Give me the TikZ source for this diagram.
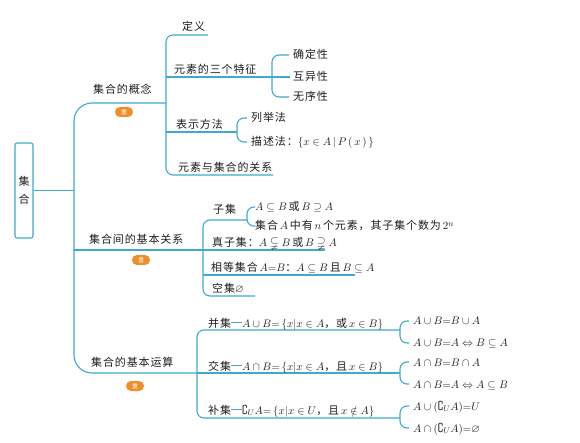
\documentclass[tikz,border=0pt]{standalone}
\usepackage{amsmath,amssymb}
\usepackage{fontspec}
\newfontfamily\cjk[LetterSpace=8]{Noto Sans CJK SC}
\newcommand\zf{\cjk\fontsize{11}{13}\selectfont}
\definecolor{lc}{RGB}{62,170,204}
\definecolor{bd}{RGB}{240,142,40}
\definecolor{tx}{RGB}{30,30,30}
\newcommand\dsh{\textcolor{lc}{\rule[0.33em]{1.0em}{0.9pt}}}
\begin{document}
\begin{tikzpicture}[x=1pt,y=-1pt,
  ln/.style={draw=lc, line width=1.1pt},
  br/.style={draw=lc, line width=1.1pt, rounded corners=7pt},
  tr/.style={draw=lc, line width=1.1pt, rounded corners=18pt},
  lbl/.style={anchor=base west, inner sep=1pt, text=tx, font=\zf},
  badge/.style={fill=bd, rounded corners=5pt, minimum width=18pt, minimum height=10pt, inner sep=0pt, text=white, font=\cjk\fontsize{6}{6}\selectfont}]
\path[use as bounding box] (0,0) rectangle (580,443);
\fill[white] (0,0) rectangle (580,443);

% root
\node[draw=lc, line width=1.1pt, rounded corners=2pt, minimum width=18pt, minimum height=95pt, inner sep=0pt, align=center, font=\zf, text=tx] (root) at (24,190.5) {集\\[5pt]合};
\coordinate (mroot) at (74,190.5);
\draw[ln] (root.east) -- (mroot);

% main trunk
\coordinate (m1) at (166,103);
\coordinate (m2) at (203,250);
\coordinate (m3) at (197,373);
\draw[tr] (m1) -- (74,103) -- (74,373) -- (m3);
\draw[ln] (74,250) -- (m2);

\node[lbl] (c1) at (92,94) {集合的概念};
\node[lbl] (c2) at (88,244) {集合间的基本关系};
\node[lbl] (c3) at (90,366) {集合的基本运算};
\node[badge] (b1) at (124,112) {重};
\node[badge] (b2) at (141,260) {重};
\node[badge] (b3) at (135,386) {重};

% --- branch 1
\draw[br] (208,35) -- (166,35) -- (166,175) -- (273,175);
\draw[ln] (166,77) -- (290,77);
\draw[ln] (166,132) -- (237,132);
\draw[br] (289,55) -- (272,55) -- (272,97) -- (289,97);
\draw[br] (247,118) -- (237,118) -- (237,142) -- (247,142);
\node[lbl] (d1) at (181,31) {定义};
\node[lbl] (d2) at (173,74) {元素的三个特征};
\node[lbl] (d3) at (175,129) {表示方法};
\node[lbl] (d4) at (177,172) {元素与集合的关系};
\node[lbl] (e1) at (292,59) {确定性};
\node[lbl] (e2) at (292,81) {互异性};
\node[lbl] (e3) at (292,101) {无序性};
\node[lbl] (f1) at (250,122) {列举法};
\node[lbl] (f2) at (250,146) {描述法：$\{x\in A\,|\,P\,(\,x\,)\,\}$};

% --- branch 2
\draw[br] (247,220) -- (203,220) -- (203,296) -- (255,296);
\draw[ln] (203,250) -- (325,250);
\draw[ln] (203,275) -- (355,275);
\draw[br] (255,207) -- (247,207) -- (247,226) -- (255,226);
\node[lbl] (g1) at (212,214) {子集};
\node[lbl] (h1) at (254,211) {$A\subseteq B$\,或\,$B\supseteq A$};
\node[lbl] (h2) at (254,230) {集合$\,A\,$中有$\,n\,$个元素，其子集个数为$\,2^n$};
\node[lbl] (g2) at (211,247) {真子集：$A\subsetneqq B$\,或\,$B\supsetneqq A$};
\node[lbl] (g3) at (210,272) {相等集合$\,A{=}B$：$A\subseteq B$\,且\,$B\subseteq A$};
\node[lbl] (g4) at (211,292) {空集$\varnothing$};

% --- branch 3
\draw[br] (400,330) -- (197,330) -- (197,418) -- (400,418);
\draw[ln] (197,373) -- (400,373);
\draw[br] (409,321) -- (400,321) -- (400,343) -- (409,343);
\draw[br] (409,362) -- (400,362) -- (400,384) -- (409,384);
\draw[br] (409,406) -- (400,406) -- (400,428) -- (409,428);
\node[lbl] (k1) at (207,327) {并集\dsh$A\cup B{=}\,\{x|x\in A$，或\,$x\in B\}$};
\node[lbl] (k2) at (207,370) {交集\dsh$A\cap B{=}\,\{x|x\in A$，且\,$x\in B\}$};
\node[lbl] (k3) at (207,414) {补集\dsh$\complement_U A{=}\,\{x|x\in U$，且\,$x\notin A\}$};
\node[lbl] (p1) at (412,324) {$A\cup B{=}B\cup A$};
\node[lbl] (p2) at (412,346) {$A\cup B{=}A\Leftrightarrow B\subseteq A$};
\node[lbl] (p3) at (412,366) {$A\cap B{=}B\cap A$};
\node[lbl] (p4) at (412,388) {$A\cap B{=}A\Leftrightarrow A\subseteq B$};
\node[lbl] (p5) at (412,410) {$A\cup(\complement_U A){=}U$};
\node[lbl] (p6) at (412,432) {$A\cap(\complement_U A){=}\varnothing$};
\end{tikzpicture}
\end{document}
